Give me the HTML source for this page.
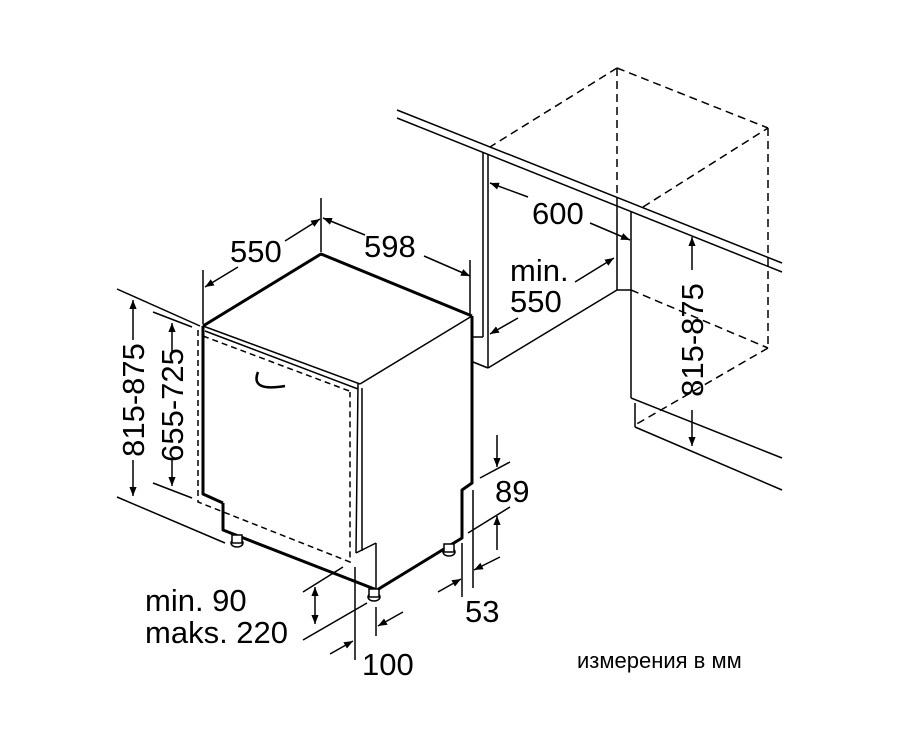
<!DOCTYPE html>
<html><head><meta charset="utf-8"><style>
html,body{margin:0;padding:0;background:#fff}
svg{display:block}
text{font-family:"Liberation Sans",sans-serif;fill:#000}
</style></head><body>
<svg width="905" height="740" viewBox="0 0 905 740" xmlns="http://www.w3.org/2000/svg">
<defs>
<marker id="a" viewBox="0 0 10 10" refX="10" refY="5" markerWidth="9" markerHeight="9" orient="auto-start-reverse" markerUnits="userSpaceOnUse"><path d="M0,1 L10,5 L0,9 z" fill="#000"/></marker>
</defs>
<g stroke="#000" fill="none" stroke-width="1.5">
<line x1="397" y1="110" x2="782" y2="263"/>
<line x1="397" y1="118" x2="782" y2="272"/>
<line x1="483" y1="153" x2="483" y2="337"/>
<line x1="488" y1="155" x2="488" y2="368"/>
<line x1="473" y1="337" x2="483" y2="337"/>
<line x1="473" y1="362" x2="488" y2="368"/>
<line x1="488" y1="368" x2="617" y2="290"/>
<line x1="617" y1="203" x2="617" y2="290"/>
<line x1="631" y1="212" x2="631" y2="398"/>
<line x1="631" y1="398" x2="782" y2="458"/>
<line x1="635" y1="403" x2="635" y2="427"/>
<line x1="635" y1="427" x2="782" y2="490"/>
<line x1="617" y1="290" x2="631" y2="290"/>
</g>
<g stroke="#000" fill="none" stroke-width="1.5" stroke-dasharray="8,5">
<line x1="617" y1="68" x2="768" y2="128"/>
<line x1="617" y1="68" x2="490" y2="147"/>
<line x1="617" y1="68" x2="617" y2="203"/>
<line x1="768" y1="128" x2="768" y2="348"/>
<line x1="643" y1="207" x2="768" y2="128"/>
<line x1="631" y1="290" x2="768" y2="348"/>
<line x1="768" y1="348" x2="635" y2="425"/>
</g>
<g stroke="#000" fill="none" stroke-width="3" stroke-linejoin="round">
<polyline points="203,326 321,254 472,316"/>
<polyline points="203,326 203,494 223,503"/>
<polyline points="472,316 472,483 462,490 462,538 377,590 223,530 223,503"/>
</g>
<g stroke="#000" fill="none" stroke-width="1.5">
<line x1="203" y1="326" x2="360" y2="384"/>
<line x1="205" y1="331" x2="358" y2="389"/>
<line x1="360" y1="384" x2="472" y2="316"/>
<line x1="358" y1="384" x2="356" y2="553"/>
<line x1="362" y1="388" x2="362" y2="551"/>
<line x1="356" y1="553" x2="376" y2="543"/>
<line x1="376" y1="543" x2="376" y2="588"/>
</g>
<path d="M258,372 Q250,392 285,386" stroke="#000" fill="none" stroke-width="2.5"/>
<g stroke="#000" fill="none" stroke-width="1.5" stroke-dasharray="6,4">
<polyline points="198,330 198,502 350,562 350,392"/>
<line x1="203" y1="336" x2="352" y2="392"/>
</g>
<g fill="#fff" stroke="#000" stroke-width="1.5">
<ellipse cx="237" cy="543" rx="6" ry="4"/><rect x="232" y="535" width="10" height="8"/>
<ellipse cx="374" cy="597" rx="6" ry="4"/><rect x="369" y="589" width="10" height="8"/>
<ellipse cx="449" cy="552" rx="6" ry="4"/><rect x="444" y="544" width="10" height="8"/>
</g>
<g stroke="#000" fill="none" stroke-width="1.5">
<line x1="203" y1="270" x2="203" y2="324"/>
<line x1="321" y1="198" x2="321" y2="252"/>
<line x1="470" y1="260" x2="470" y2="314"/>
<line x1="285" y1="241" x2="320" y2="219" marker-end="url(#a)"/>
<line x1="238" y1="267" x2="205" y2="287" marker-end="url(#a)"/>
<line x1="365" y1="235" x2="323" y2="218" marker-end="url(#a)"/>
<line x1="424" y1="256" x2="470" y2="276" marker-end="url(#a)"/>
<line x1="117" y1="289" x2="200" y2="326"/>
<line x1="117" y1="497" x2="225" y2="543"/>
<line x1="133" y1="340" x2="133" y2="300" marker-end="url(#a)"/>
<line x1="133" y1="460" x2="133" y2="496" marker-end="url(#a)"/>
<line x1="153" y1="312" x2="192" y2="327"/>
<line x1="153" y1="483" x2="192" y2="498"/>
<line x1="172" y1="352" x2="172" y2="323" marker-end="url(#a)"/>
<line x1="172" y1="460" x2="172" y2="486" marker-end="url(#a)"/>
<line x1="497" y1="435" x2="497" y2="467" marker-end="url(#a)"/>
<line x1="480" y1="478" x2="510" y2="462"/>
<line x1="468" y1="533" x2="510" y2="507"/>
<line x1="497" y1="550" x2="497" y2="516" marker-end="url(#a)"/>
<line x1="462" y1="543" x2="462" y2="597"/>
<line x1="473" y1="490" x2="473" y2="588"/>
<line x1="438" y1="592" x2="461" y2="579" marker-end="url(#a)"/>
<line x1="500" y1="557" x2="474" y2="570" marker-end="url(#a)"/>
<line x1="303" y1="592" x2="343" y2="567"/>
<line x1="303" y1="640" x2="367" y2="603"/>
<line x1="315" y1="605" x2="315" y2="587" marker-end="url(#a)"/>
<line x1="315" y1="605" x2="315" y2="624" marker-end="url(#a)"/>
<line x1="355" y1="567" x2="355" y2="660"/>
<line x1="376" y1="607" x2="376" y2="636"/>
<line x1="330" y1="654" x2="353" y2="641" marker-end="url(#a)"/>
<line x1="403" y1="612" x2="378" y2="626" marker-end="url(#a)"/>
<line x1="528" y1="197" x2="490" y2="183" marker-end="url(#a)"/>
<line x1="590" y1="223" x2="630" y2="240" marker-end="url(#a)"/>
<line x1="518" y1="318" x2="490" y2="334" marker-end="url(#a)"/>
<line x1="575" y1="282" x2="614" y2="258" marker-end="url(#a)"/>
<line x1="692" y1="270" x2="692" y2="237" marker-end="url(#a)"/>
<line x1="692" y1="410" x2="692" y2="446" marker-end="url(#a)"/>
</g>
<g font-size="31">
<text x="230" y="262">550</text>
<text x="364" y="257">598</text>
<text x="532" y="224">600</text>
<text x="510" y="281">min.</text>
<text x="510" y="312">550</text>
<text x="495" y="502">89</text>
<text x="465" y="622">53</text>
<text x="145" y="611">min. 90</text>
<text x="145" y="643">maks. 220</text>
<text x="362" y="675">100</text>
<text transform="translate(144,400) rotate(-90)" text-anchor="middle">815-875</text>
<text transform="translate(183,405) rotate(-90)" text-anchor="middle">655-725</text>
<text transform="translate(703,340) rotate(-90)" text-anchor="middle">815-875</text>
</g>
<text x="577" y="668" font-size="22">измерения в мм</text>
</svg>
</body></html>
